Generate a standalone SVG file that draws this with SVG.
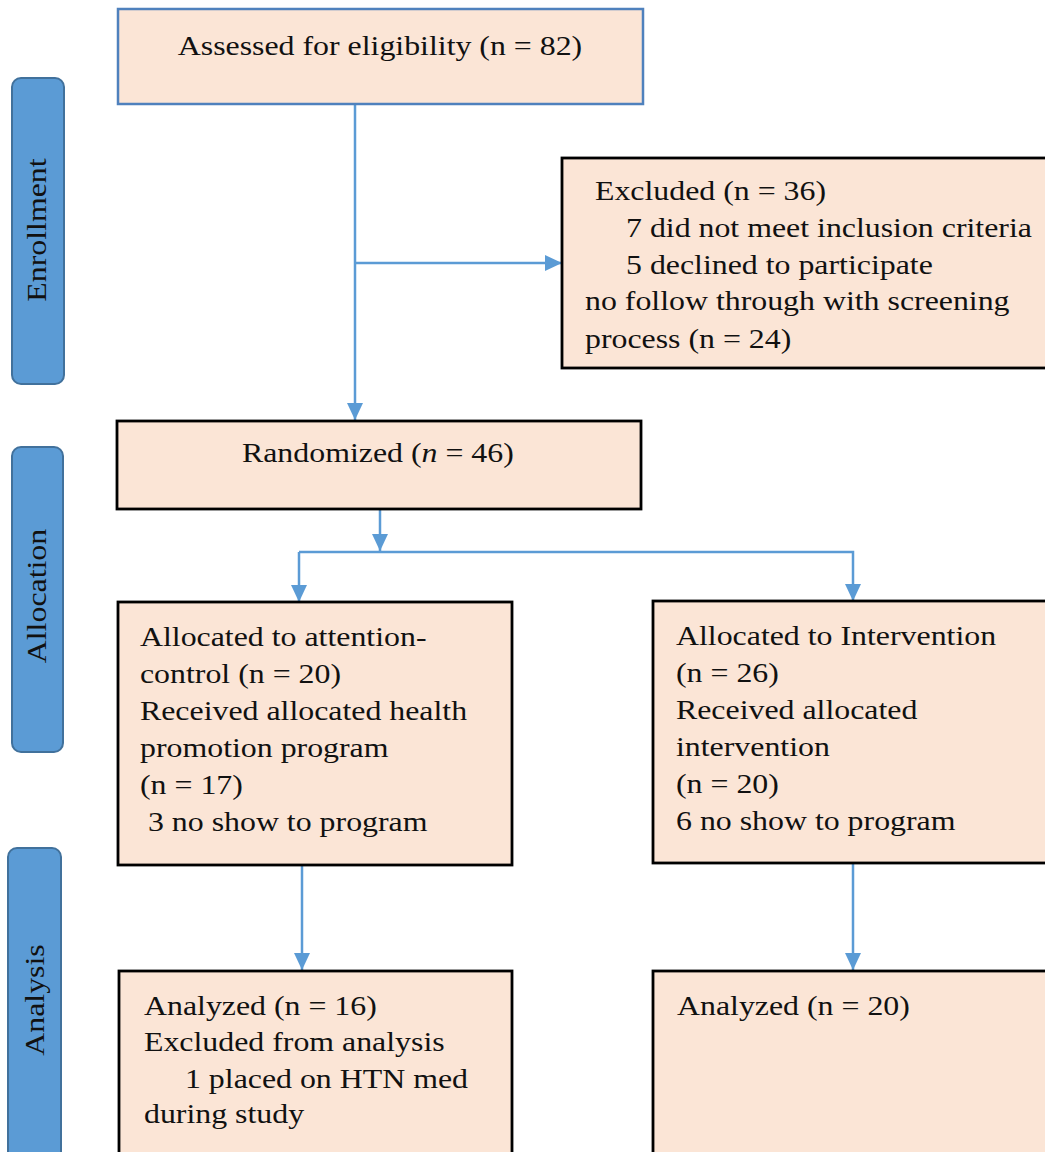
<svg xmlns="http://www.w3.org/2000/svg" width="1045" height="1152" viewBox="0 0 1045 1152">
  <style>
    .box { fill: #fbe5d6; stroke: #000; stroke-width: 2.8; }
    .box-blue { fill: #fbe5d6; stroke: #4f81bd; stroke-width: 2.5; }
    .phase { fill: #5b9bd5; stroke: #41719c; stroke-width: 2; }
    text { font-family: 'Liberation Serif', 'Times New Roman', serif; font-size: 27px; fill: #111;
           transform-box: fill-box; transform-origin: 0 50%; transform: scaleX(1.18); }
    text.c { text-anchor: middle; transform-origin: 50% 50%; }
    .link { stroke: #5b9bd5; stroke-width: 2.5; fill: none; }
  </style>
  <defs>
    <marker id="arrow" markerUnits="userSpaceOnUse" markerWidth="17" markerHeight="17" viewBox="0 0 17 17" refX="17" refY="8.5" orient="auto">
      <path d="M0,0.5 L17,8.5 L0,16.5 Z" fill="#5b9bd5"/>
    </marker>
  </defs>
  <rect width="1045" height="1152" fill="#fff"/>

  <!-- phase labels -->
  <g id="phase-enrollment">
    <rect class="phase" x="12" y="78" width="52" height="306" rx="9"/>
    <g transform="translate(46,230) rotate(-90)"><text class="c" x="0" y="0">Enrollment</text></g>
  </g>
  <g id="phase-allocation">
    <rect class="phase" x="12" y="447" width="51" height="305" rx="9"/>
    <g transform="translate(46,596) rotate(-90)"><text class="c" x="0" y="0">Allocation</text></g>
  </g>
  <g id="phase-analysis">
    <rect class="phase" x="8" y="848" width="53" height="320" rx="9"/>
    <g transform="translate(44,1000) rotate(-90)"><text class="c" x="0" y="0">Analysis</text></g>
  </g>

  <!-- connectors -->
  <g id="connectors">
    <line class="link" x1="355" y1="104" x2="355" y2="420" marker-end="url(#arrow)"/>
    <line class="link" x1="355" y1="263" x2="562" y2="263" marker-end="url(#arrow)"/>
    <line class="link" x1="380" y1="509" x2="380" y2="551" marker-end="url(#arrow)"/>
    <polyline class="link" points="299,552 853,552 853,601" marker-end="url(#arrow)"/>
    <line class="link" x1="299" y1="552" x2="299" y2="602" marker-end="url(#arrow)"/>
    <line class="link" x1="302" y1="865" x2="302" y2="970" marker-end="url(#arrow)"/>
    <line class="link" x1="853" y1="863" x2="853" y2="970" marker-end="url(#arrow)"/>
  </g>

  <!-- nodes -->
  <g id="assessed">
    <rect class="box-blue" x="118" y="9" width="525" height="95"/>
    <text class="c" x="380" y="55">Assessed for eligibility (n = 82)</text>
  </g>

  <g id="excluded">
    <rect class="box" x="562" y="158" width="500" height="210"/>
    <text x="595" y="200">Excluded (n = 36)</text>
    <text x="626" y="237">7 did not meet inclusion criteria</text>
    <text x="626" y="274">5 declined to participate</text>
    <text x="585" y="310">no follow through with screening</text>
    <text x="585" y="348">process (n = 24)</text>
  </g>

  <g id="randomized">
    <rect class="box" x="117" y="421" width="524" height="88"/>
    <text x="242" y="462">Randomized (<tspan font-style="italic">n</tspan> = 46)</text>
  </g>

  <g id="attention-control">
    <rect class="box" x="118" y="602" width="394" height="263"/>
    <text x="140" y="646">Allocated to attention-</text>
    <text x="140" y="683">control (n = 20)</text>
    <text x="140" y="720">Received allocated health</text>
    <text x="140" y="757">promotion program</text>
    <text x="140" y="794">(n = 17)</text>
    <text x="148" y="831">3 no show to program</text>
  </g>

  <g id="intervention">
    <rect class="box" x="653" y="601" width="410" height="262"/>
    <text x="676" y="645">Allocated to Intervention</text>
    <text x="676" y="682">(n = 26)</text>
    <text x="676" y="719">Received allocated</text>
    <text x="676" y="756">intervention</text>
    <text x="676" y="793">(n = 20)</text>
    <text x="676" y="830">6 no show to program</text>
  </g>

  <g id="analyzed-control">
    <rect class="box" x="119" y="971" width="393" height="200"/>
    <text x="144" y="1015">Analyzed (n = 16)</text>
    <text x="144" y="1051">Excluded from analysis</text>
    <text x="185" y="1088">1 placed on HTN med</text>
    <text x="144" y="1123">during study</text>
  </g>

  <g id="analyzed-intervention">
    <rect class="box" x="653" y="971" width="410" height="200"/>
    <text x="677" y="1015">Analyzed (n = 20)</text>
  </g>
</svg>
